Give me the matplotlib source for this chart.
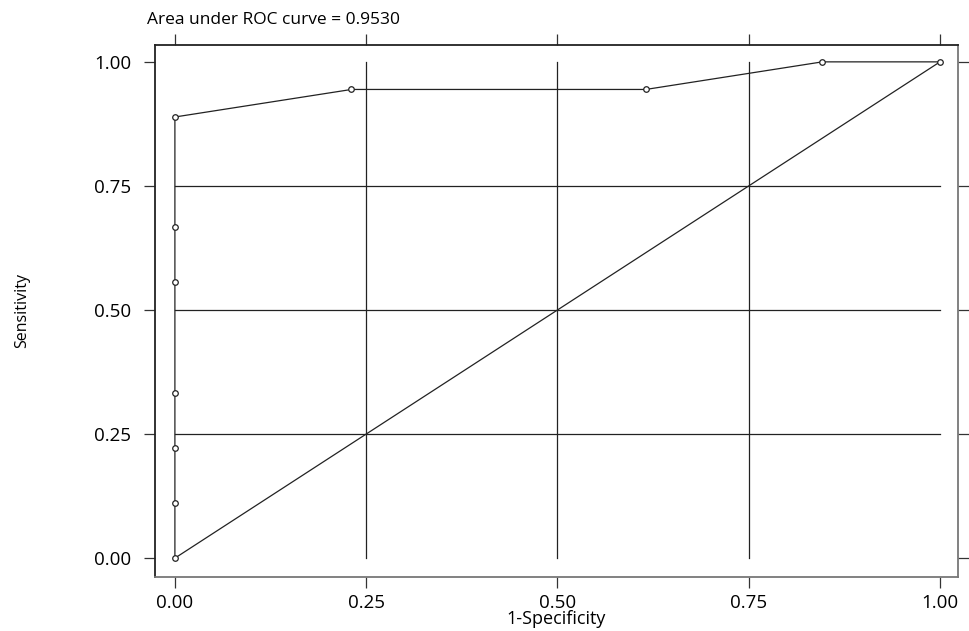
import matplotlib
matplotlib.use("Agg")
import matplotlib.pyplot as plt
import numpy as np

plt.rcParams['font.family'] = ['Open Sans', 'DejaVu Sans']

fpr = [0.0, 0.0, 0.0, 0.0, 0.0, 0.0, 0.0, 0.2308, 0.6154, 0.8462, 1.0]
tpr = [0.0, 0.1111, 0.2222, 0.3333, 0.5556, 0.6667, 0.8889, 0.9444, 0.9444, 1.0, 1.0]
ticks = [0.0, 0.25, 0.5, 0.75, 1.0]
tick_labels = ["0.00", "0.25", "0.50", "0.75", "1.00"]
grid_vals = [0.25, 0.5, 0.75]
auc_text = "Area under ROC curve = 0.9530"

fig = plt.figure(figsize=(9.7, 6.31), dpi=100)
ax = fig.add_axes([0.1598, 0.0856, 0.8278, 0.8431])

for g in grid_vals:
    ax.plot([g, g], [0, 1], color='#222222', lw=0.9, zorder=1)
    ax.plot([0, 1], [g, g], color='#222222', lw=0.9, zorder=1)

ax.plot([0, 1], [0, 1], color='#222222', lw=0.9, zorder=2)
ax.plot(fpr, tpr, color='#222222', lw=0.9, marker='o', markersize=4,
        markerfacecolor='white', markeredgecolor='#222222', markeredgewidth=0.9, zorder=3)

ax.set_xlim(-0.026, 1.0235)
ax.set_ylim(-0.038, 1.034)
ax.set_xticks(ticks)
ax.set_xticklabels(tick_labels)
ax.set_yticks(ticks)
ax.set_yticklabels(tick_labels)
ax.tick_params(axis='both', which='both', direction='out', length=8, width=0.9,
               color='#333333', labelsize=13.5, top=True, right=True,
               labeltop=False, labelright=False)
ax.tick_params(axis='x', pad=4)
ax.tick_params(axis='y', pad=9)

ax.spines['top'].set_color('#222222')
ax.spines['left'].set_color('#222222')
ax.spines['bottom'].set_color('#777777')
ax.spines['right'].set_color('#777777')
for s in ax.spines.values():
    s.set_linewidth(1.3)

ax.set_xlabel("1-Specificity", fontsize=13, labelpad=-1)
ax.set_ylabel("Sensitivity", fontsize=11.5, labelpad=46)
fig.text(147/970, 1 - 20/631, auc_text, fontsize=12.5, ha='left', va='center')

fig.savefig("out.png", dpi=100)
